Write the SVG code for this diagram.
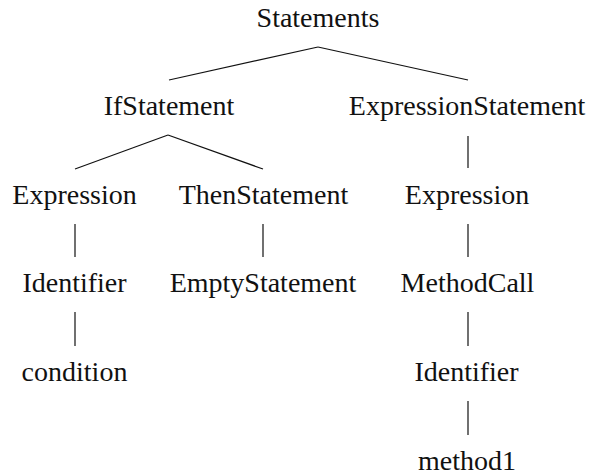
<svg xmlns="http://www.w3.org/2000/svg" width="592" height="475" viewBox="0 0 592 475">
<rect width="592" height="475" fill="#fff"/>
<g id="connectors" stroke="#111" stroke-width="1.2" fill="none">
<line x1="318" y1="47" x2="169" y2="80"/>
<line x1="318" y1="47" x2="468" y2="80"/>
<line x1="168" y1="135" x2="75" y2="169"/>
<line x1="168" y1="135" x2="263" y2="169"/>
<line x1="75" y1="224" x2="75" y2="257"/>
<line x1="263" y1="224" x2="263" y2="257"/>
<line x1="75" y1="312" x2="75" y2="346"/>
<line x1="468" y1="136" x2="468" y2="168"/>
<line x1="468" y1="224" x2="468" y2="257"/>
<line x1="468" y1="312" x2="468" y2="346"/>
<line x1="468" y1="401" x2="468" y2="435"/>
</g>
<g id="n-statements"><text x="318" y="27" font-size="28" font-family="'Liberation Serif'" text-anchor="middle" fill="#111">Statements</text></g>
<g id="n-ifstatement"><text x="169" y="115" font-size="28" font-family="'Liberation Serif'" text-anchor="middle" fill="#111">IfStatement</text></g>
<g id="n-exprstatement"><text x="467" y="115" font-size="28" font-family="'Liberation Serif'" text-anchor="middle" fill="#111">ExpressionStatement</text></g>
<g id="n-expression1"><text x="74.5" y="204" font-size="28" font-family="'Liberation Serif'" text-anchor="middle" fill="#111">Expression</text></g>
<g id="n-thenstatement"><text x="263.5" y="204" font-size="28" font-family="'Liberation Serif'" text-anchor="middle" fill="#111">ThenStatement</text></g>
<g id="n-expression2"><text x="467" y="204" font-size="28" font-family="'Liberation Serif'" text-anchor="middle" fill="#111">Expression</text></g>
<g id="n-identifier1"><text x="74.5" y="292" font-size="28" font-family="'Liberation Serif'" text-anchor="middle" fill="#111">Identifier</text></g>
<g id="n-emptystatement"><text x="263" y="292" font-size="28" font-family="'Liberation Serif'" text-anchor="middle" fill="#111">EmptyStatement</text></g>
<g id="n-methodcall"><text x="467.5" y="292" font-size="28" font-family="'Liberation Serif'" text-anchor="middle" fill="#111">MethodCall</text></g>
<g id="n-condition"><text x="74.5" y="381" font-size="28" font-family="'Liberation Serif'" text-anchor="middle" fill="#111">condition</text></g>
<g id="n-identifier2"><text x="466.5" y="381" font-size="28" font-family="'Liberation Serif'" text-anchor="middle" fill="#111">Identifier</text></g>
<g id="n-method1"><text x="467" y="470" font-size="28" font-family="'Liberation Serif'" text-anchor="middle" fill="#111">method1</text></g>
</svg>
